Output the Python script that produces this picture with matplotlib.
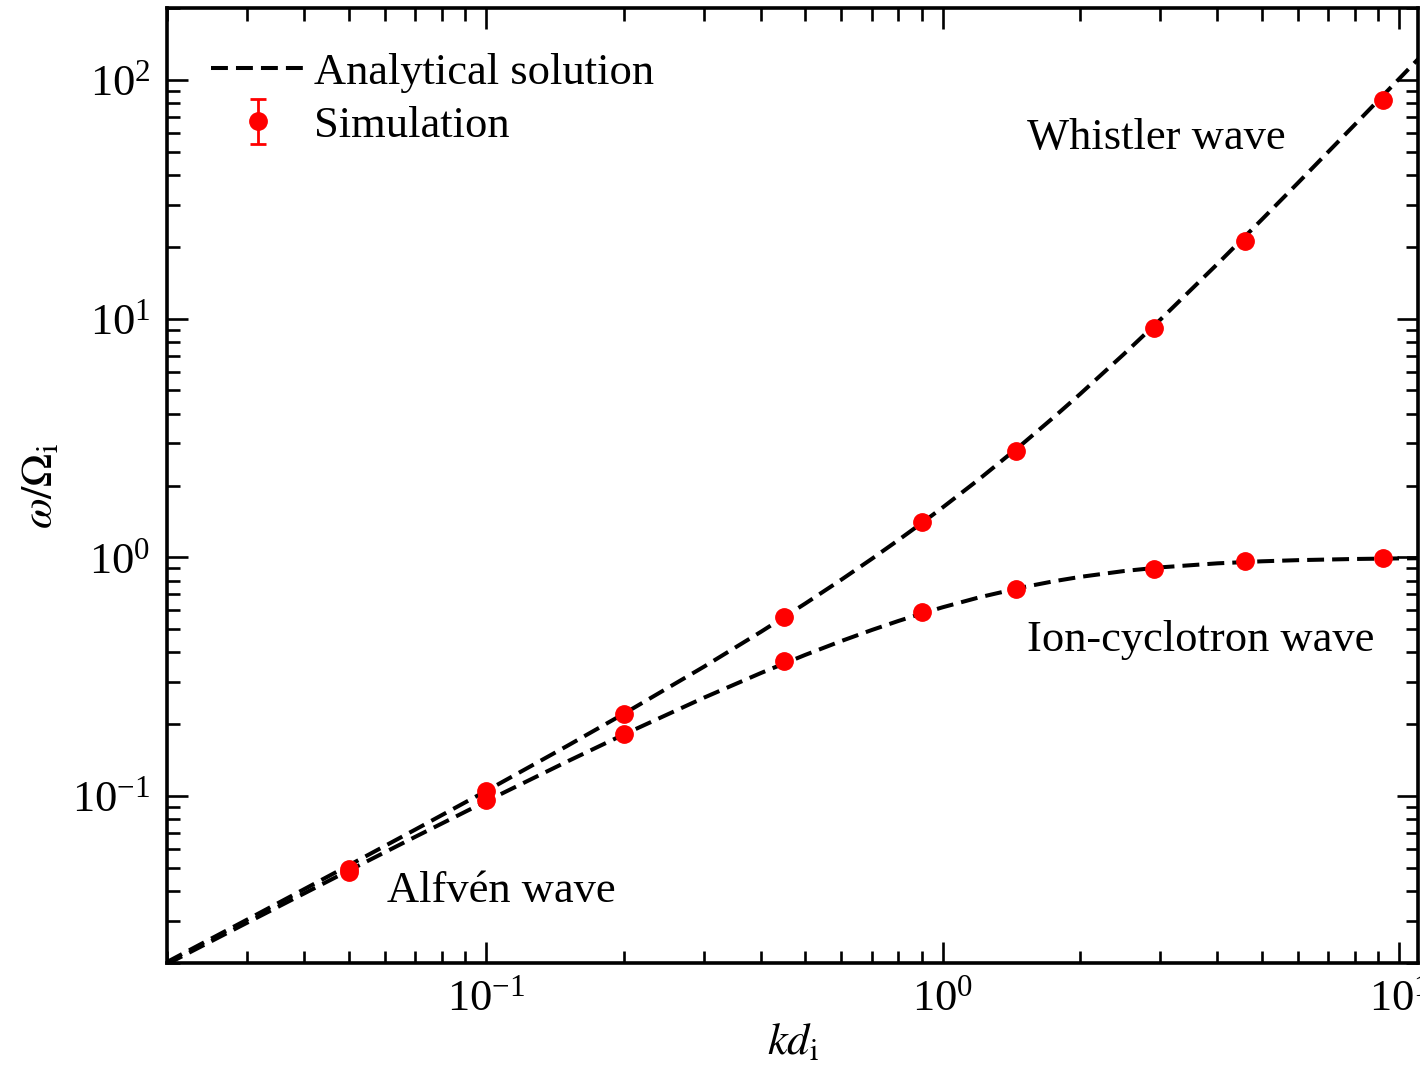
import matplotlib
matplotlib.use("Agg")
import matplotlib.pyplot as plt
from matplotlib.ticker import LogLocator, NullFormatter

# analytical dispersion curves
kd_curve = [0.02, 0.03, 0.05, 0.07, 0.1, 0.15, 0.2, 0.3, 0.4, 0.5, 0.6, 0.7,
            0.8, 0.9, 1.0, 1.2, 1.5, 1.75, 2.0, 2.5, 3.0, 4.0, 5.0, 6.0,
            8.0, 10.0, 12.0]
whistler_curve = [0.0202, 0.03045, 0.05127, 0.07249, 0.1051, 0.1617, 0.2210,
                  0.3484, 0.4879, 0.6404, 0.8064, 0.9866, 1.1816, 1.3919,
                  1.618, 2.1194, 3.0, 3.8566, 4.8284, 7.127, 9.908, 16.944,
                  25.963, 36.974, 64.985, 100.99, 144.99]
ion_curve = [0.0198, 0.02955, 0.04877, 0.06759, 0.09513, 0.1392, 0.1810,
             0.2584, 0.3279, 0.3904, 0.4464, 0.4966, 0.5416, 0.5819, 0.6180,
             0.6794, 0.75, 0.7941, 0.8284, 0.8770, 0.9083, 0.9443, 0.9629,
             0.9737, 0.9848, 0.9902, 0.9932]

# simulation points
kd_sim = [0.05, 0.1, 0.2, 0.45, 0.9, 1.45, 2.9, 4.6, 9.2]
whistler_sim = [0.0495, 0.105, 0.22, 0.565, 1.40, 2.8, 9.1, 21.2, 82.0]
ion_sim = [0.048, 0.096, 0.182, 0.367, 0.59, 0.74, 0.89, 0.97, 0.99]
err_sim = [0.0] * len(kd_sim)

plt.rcParams['font.family'] = ['Liberation Serif', 'STIXGeneral', 'DejaVu Serif']
plt.rcParams['mathtext.fontset'] = 'stix'
plt.rcParams['font.size'] = 32

fig = plt.figure(figsize=(14.2, 10.77), dpi=100)
ax = fig.add_axes([0.1176, 0.1058, 0.881, 0.8868])

dash = (4.2, 2.0)
ax.plot(kd_curve, whistler_curve, color='black', lw=2.9, ls='--',
        dashes=dash, label='Analytical solution')
ax.plot(kd_curve, ion_curve, color='black', lw=2.9, ls='--', dashes=dash)

for ys, lab in [(whistler_sim, 'Simulation'), (ion_sim, None)]:
    cont = ax.errorbar(kd_sim, ys, yerr=err_sim, fmt='o', color='red',
                       ms=12.5, elinewidth=2.0, capsize=5.5, capthick=2.0,
                       label=lab, zorder=3)
    # errors are smaller than the markers: keep caps hidden behind dots
    for cap in cont[1]:
        cap.set_zorder(1)

ax.set_xscale('log')
ax.set_yscale('log')
ax.set_xlim(0.02, 11)
ax.set_ylim(0.02, 200)

ax.xaxis.set_minor_locator(LogLocator(base=10, subs=range(2, 10), numticks=20))
ax.yaxis.set_minor_locator(LogLocator(base=10, subs=range(2, 10), numticks=20))
ax.xaxis.set_minor_formatter(NullFormatter())
ax.yaxis.set_minor_formatter(NullFormatter())

ax.tick_params(which='both', direction='in', top=True, right=True)
ax.tick_params(which='major', length=15, width=1.9, labelsize=32)
ax.tick_params(axis='x', which='major', pad=12)
ax.tick_params(axis='y', which='major', pad=12)
ax.tick_params(which='minor', length=9, width=1.9)
for s in ax.spines.values():
    s.set_linewidth(2.6)

ax.set_xlabel(r'$kd_{\rm i}$', fontsize=32, labelpad=2)
ax.set_ylabel(r'$\omega/\Omega_{\rm i}$', fontsize=32, labelpad=8)

ax.text(1.53, 57, 'Whistler wave', fontsize=32, ha='left', va='center')
ax.text(1.53, 0.45, 'Ion-cyclotron wave', fontsize=32, ha='left', va='center')
ax.text(0.0607, 0.0401, 'Alfvén wave', fontsize=32, ha='left', va='center')

ax.legend(loc='upper left', frameon=False, fontsize=32, handlelength=2.1,
          handletextpad=0.2, labelspacing=0.3, borderaxespad=0.6)

fig.savefig('out.png', dpi=100)
